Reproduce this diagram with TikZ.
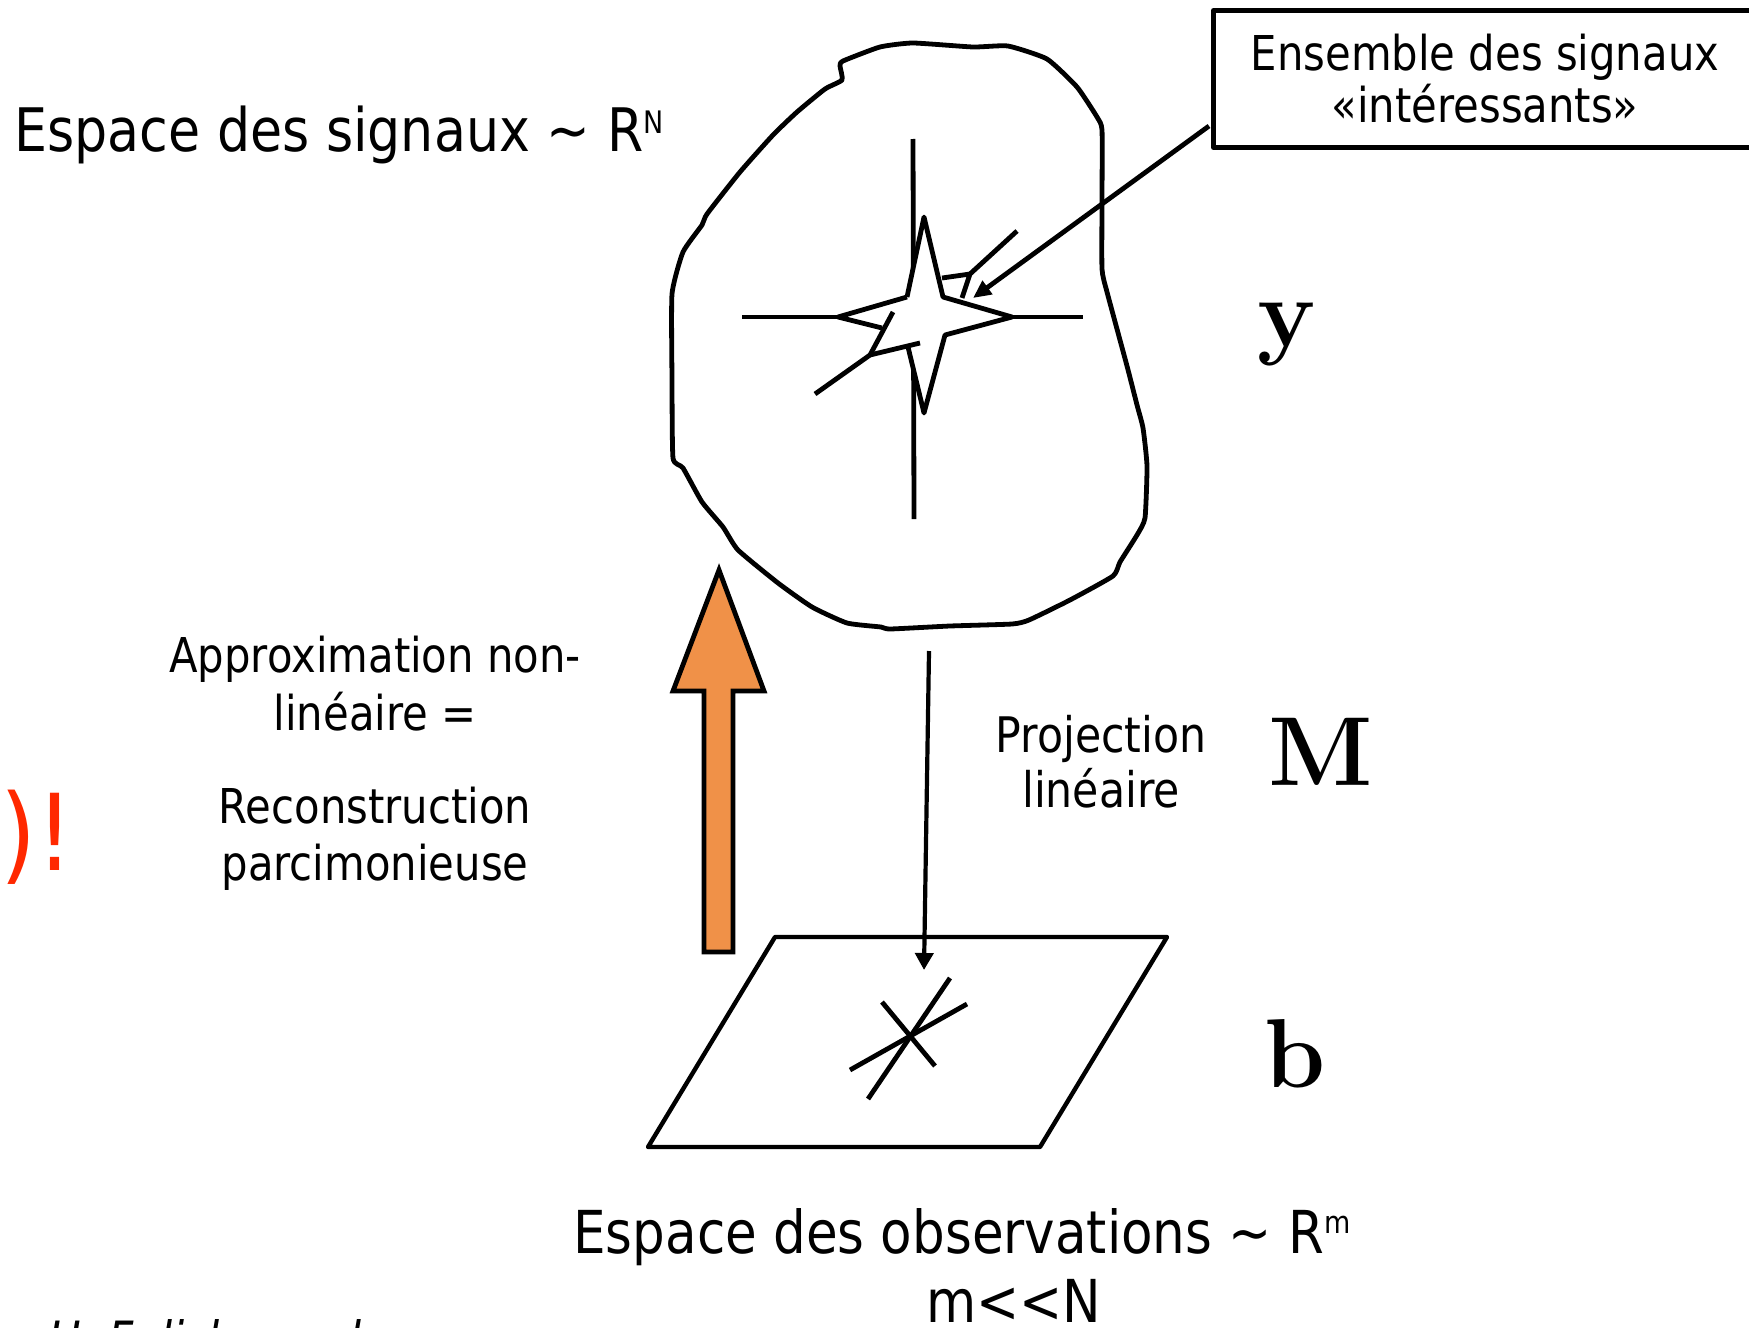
\documentclass[tikz,border=0pt]{standalone}
\usepackage{fontspec}
\setmainfont{DejaVu Sans}[FakeStretch=0.87]
\newfontfamily\lmr{Latin Modern Roman}
\usetikzlibrary{arrows.meta}
\definecolor{orng}{RGB}{240,145,72}
\definecolor{redx}{RGB}{255,40,0}
\begin{document}
\begin{tikzpicture}[x=0.5pt,y=-0.5pt,line join=round,
  ln/.style={line width=2.4pt},
  txt/.style={inner sep=0pt,anchor=base},
  tbig/.style={font=\fontsize{30}{30}\selectfont},
  tbox/.style={font=\fontsize{24}{25}\selectfont},
  tmid/.style={font=\fontsize{24.5}{25}\selectfont},
  tsml/.style={font=\fontsize{24}{25}\selectfont},
  tbot/.style={font=\fontsize{29.6}{30}\selectfont},
  tmath/.style={font={\fontsize{49}{49}\selectfont\lmr\bfseries}},
  tip/.style={-{Triangle[length=9pt,width=8pt]}}]
\useasboundingbox (0,0) rectangle (1749,1327);
\fill[white] (0,0) rectangle (1749,1327);
\clip (0,0) rectangle (1749,1327);

% title
\node[txt,anchor=base west,tbig] (title) at (14,151)
  {Espace des signaux \textasciitilde{} R\raisebox{9pt}{\fontsize{15.5}{16}\selectfont N}};

% blob
\draw[ln] plot[smooth cycle,tension=0.3] coordinates {
 (913,43) (973,47) (1008,46) (1047,59) (1077,87) (1097,117) (1102,130)
 (1102,200) (1102,269) (1107,292) (1127,366) (1137,405) (1143,428) (1147,466)
 (1145,518) (1137,535) (1120,562) (1113,576) (1070,600) (1029,620) (1012,624)
 (950,626) (890,629) (881,627) (847,623) (812,607) (778,583) (738,550)
 (723,527) (702,502) (683,468) (673,458) (672,380) (672,294) (683,252)
 (702,225) (707,214) (740,172) (773,135) (797,112) (825,89) (842,80)
 (840,66) (843,61) (880,47)};

% axes
\draw[ln] (913,139) -- (914,519);
\draw[ln] (742,317) -- (1083,317);
% star
\fill[white] (924,217) -- (943,297) -- (1012,317) -- (945,335) -- (924,413)
  -- (908,347) -- (870,355) -- (882,328) -- (838,317) -- (907,297) -- cycle;
\draw[ln] (907,297) -- (924,217) -- (943,297) -- (1012,317) -- (945,335)
  -- (924,413) -- (908,347);
\draw[ln] (882,328) -- (838,317) -- (907,297);
\draw[ln] (815,394) -- (870,355) -- (893,312);
\draw[ln] (870,355) -- (920,343);
\draw[ln] (942,278) -- (970,274) -- (962,298);
\draw[ln] (970,274) -- (1017,231);

% box
\node[draw,line width=2.5pt,minimum width=280pt,minimum height=68.5pt,
  inner sep=0pt,anchor=north west] (box) at (1211,8) {};
\node[txt,tbox] (box1) at (1485,71) {Ensemble des signaux};
\node[txt,tbox] (box2) at (1485,123) {«intéressants»};
\coordinate (boxA) at (1209,126);
\coordinate (starA) at (973,298);
\draw[ln,tip] (boxA) -- (starA);

% labels y, M, b
\node[txt,tmath] (y) at (1287,346) {y};
\node[txt,tmath] (M) at (1321,785) {M};
\node[txt,tmath] (b) at (1295,1087) {b};

% orange arrow
\draw[line width=2.4pt,fill=orng,line join=miter] (719,570) -- (764,691) -- (733,691)
  -- (733,952) -- (704,952) -- (704,691) -- (673,691) -- cycle;

% left texts
\node[txt,tsml] (l1) at (375,672) {Approximation non-};
\node[txt,tsml] (l2) at (375,730) {linéaire =};
\node[txt,tsml] (l3) at (375,823) {Reconstruction};
\node[txt,tsml] (l4) at (375,880) {parcimonieuse};

% red
\node[txt,anchor=base west,text=redx,font=\fontsize{53}{53}\selectfont] (excl) at (0,870) {)!};

% projection
\node[txt,tmid] (p1) at (1101,752) {Projection};
\node[txt,tmid] (p2) at (1101,807) {linéaire};
\coordinate (projTop) at (929,651);
\coordinate (projTip) at (924,970);
\draw[line width=2.1pt,-{Triangle[length=8.5pt,width=9pt]}] (projTop) -- (projTip);

% parallelogram
\draw[line width=2.2pt] (775,937) -- (1167,937) -- (1040,1147) -- (648,1147) -- cycle;
\draw[ln] (950,978) -- (868,1099);
\draw[ln] (967,1004) -- (850,1070);
\draw[ln] (882,1002) -- (935,1066);

% bottom texts
\node[txt,anchor=base west,tbot] (obs) at (573,1253)
  {Espace des observations \textasciitilde{} R\raisebox{10pt}{\fontsize{15.5}{16}\selectfont m}};
\node[txt,tbot] (mN) at (1014,1322) {m<{}<N};

% clipped footer
\node[txt,anchor=base west,font=\fontsize{25}{25}\selectfont\itshape] (foot) at (48,1357) {H. Felisbonard};
\end{tikzpicture}
\end{document}
